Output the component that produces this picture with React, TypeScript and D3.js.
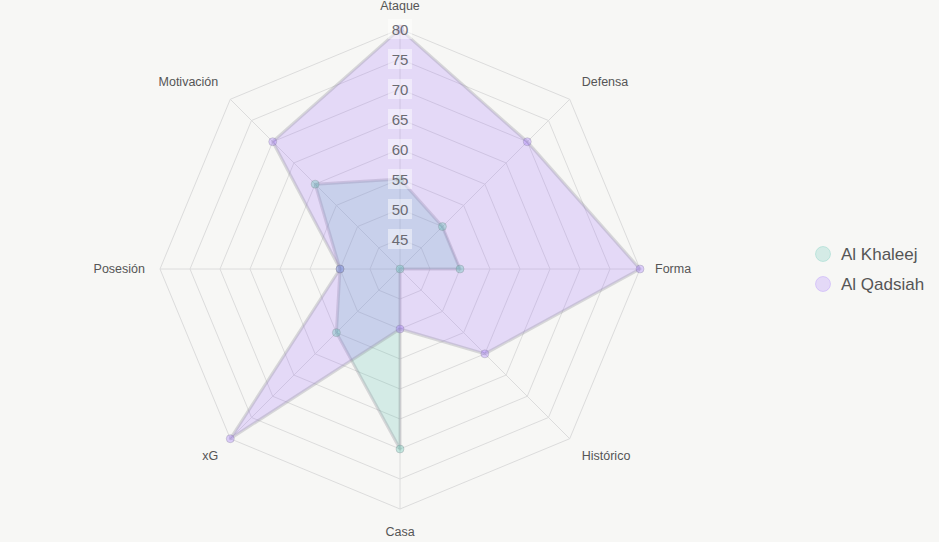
import { useEffect, useRef } from "react";
import * as d3 from "d3";

const axes = ["Ataque", "Defensa", "Forma", "Histórico", "Casa", "xG", "Posesión", "Motivación"];
const khaleej = [55, 50, 50, 40, 70, 55, 50, 60];
const qadsiah = [80, 70, 80, 60, 50, 80, 50, 70];
const ticks = [45, 50, 55, 60, 65, 70, 75, 80];

const series = [
  { name: "Al Khaleej", values: khaleej, rgb: "75,192,170" },
  { name: "Al Qadsiah", values: qadsiah, rgb: "153,102,255" },
];

const W = 939;
const H = 542;
const font = "Arial, 'Liberation Sans', sans-serif";

const App = () => {
  const ref = useRef<SVGSVGElement | null>(null);

  useEffect(() => {
    if (!ref.current) return;
    const svg = d3.select(ref.current);
    svg.selectAll("*").remove();

    const cx = 400;
    const cy = 269;
    const R = 240;
    const r = d3.scaleLinear().domain([40, 80]).range([0, R]);
    const angle = (i: number) => (i * 2 * Math.PI) / axes.length;
    const pt = (i: number, v: number): [number, number] => [
      cx + r(v) * Math.sin(angle(i)),
      cy - r(v) * Math.cos(angle(i)),
    ];

    svg.append("rect").attr("width", W).attr("height", H).attr("fill", "#f7f7f5");

    const g = svg.append("g");

    // rings
    ticks.forEach(t => {
      g.append("polygon")
        .attr("points", axes.map((_, i) => pt(i, t).join(",")).join(" "))
        .attr("fill", "none")
        .attr("stroke", "#dcdcdc")
        .attr("stroke-width", 1);
    });

    // spokes
    axes.forEach((_, i) => {
      const [x, y] = pt(i, 80);
      g.append("line")
        .attr("x1", cx).attr("y1", cy).attr("x2", x).attr("y2", y)
        .attr("stroke", "#dcdcdc").attr("stroke-width", 1);
    });

    const line = d3.line<[number, number]>().curve(d3.curveLinearClosed);

    series.forEach(s => {
      const pts = s.values.map((v, i) => pt(i, v));
      g.append("path")
        .attr("d", line(pts)!)
        .attr("fill", `rgba(${s.rgb},0.2)`)
        .attr("stroke", "rgba(140,140,150,0.3)")
        .attr("stroke-width", 3)
        .attr("stroke-linejoin", "round");
    });

    series.forEach(s => {
      const pts = s.values.map((v, i) => pt(i, v));
      g.selectAll(null)
        .data(pts)
        .enter()
        .append("circle")
        .attr("cx", d => d[0])
        .attr("cy", d => d[1])
        .attr("r", 4)
        .attr("fill", `rgba(${s.rgb},0.3)`)
        .attr("stroke", "rgba(130,130,140,0.3)")
        .attr("stroke-width", 1);
    });

    // tick labels
    ticks.forEach(t => {
      const y = cy - r(t);
      g.append("rect")
        .attr("x", cx - 12).attr("y", y - 10).attr("width", 24).attr("height", 20)
        .attr("fill", "rgba(255,255,255,0.45)");
      g.append("text")
        .attr("x", cx).attr("y", y)
        .attr("text-anchor", "middle")
        .attr("dominant-baseline", "central")
        .attr("font-family", font)
        .attr("font-size", 15)
        .attr("fill", "#6a6a72")
        .text(t);
    });

    // axis labels
    axes.forEach((a, i) => {
      const ang = angle(i);
      const s = Math.sin(ang);
      const c = Math.cos(ang);
      let x = cx + 255 * s;
      let y = cy - 255 * c;
      let anchor = "middle";
      if (s > 0.1) anchor = "start";
      else if (s < -0.1) anchor = "end";
      if (Math.abs(s) > 0.1 && Math.abs(c) > 0.1) {
        x = cx + 257 * s;
        y = cy - 265 * c;
      }
      if (Math.abs(s) < 0.1) y = cy - 263 * c;
      g.append("text")
        .attr("x", x).attr("y", y)
        .attr("text-anchor", anchor)
        .attr("dominant-baseline", "central")
        .attr("font-family", font)
        .attr("font-size", 12.5)
        .attr("fill", "#555")
        .text(a);
    });

    // legend
    const leg = svg.append("g").attr("transform", "translate(823,254)");
    series.forEach((s, i) => {
      leg.append("circle")
        .attr("cx", 0).attr("cy", i * 30).attr("r", 7.5)
        .attr("fill", `rgba(${s.rgb},0.2)`)
        .attr("stroke", `rgba(${s.rgb},0.25)`)
        .attr("stroke-width", 1);
      leg.append("text")
        .attr("x", 18).attr("y", i * 30)
        .attr("dominant-baseline", "central")
        .attr("font-family", font)
        .attr("font-size", 17)
        .attr("fill", "#555")
        .text(s.name);
    });
  }, []);

  return (
    <div style={{ position: "absolute", top: 0, left: 0, width: W, height: H }}>
      <svg ref={ref} width={W} height={H} style={{ display: "block" }} />
    </div>
  );
};

export default App;
